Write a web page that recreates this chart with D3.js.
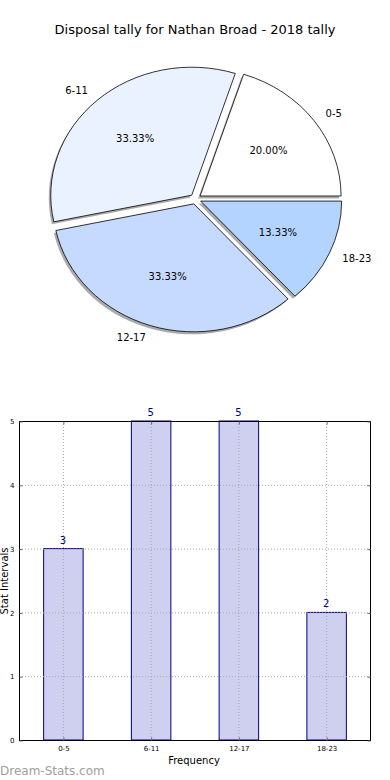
<!DOCTYPE html>
<html><head><meta charset="utf-8">
<script src="https://cdn.jsdelivr.net/npm/d3@7"></script>
<style>body{margin:0;background:#fff;} svg{display:block;font-family:"DejaVu Sans",sans-serif;}</style>
</head><body>
<script>
const title = "Disposal tally for Nathan Broad - 2018 tally";
const categories = ["0-5", "6-11", "12-17", "18-23"];
const values = [3, 5, 5, 2];
const pieColors = ["#ffffff", "#eaf1ff", "#c6d9ff", "#b3d4ff"];
const yTicks = [0, 1, 2, 3, 4, 5];
const xLabel = "Frequency";
const yLabel = "Stat Intervals";
const watermark = "Dream-Stats.com";

const W = 390, H = 780;
const svg = d3.select("body").append("svg").attr("width", W).attr("height", H);

svg.append("text").attr("x", 195).attr("y", 34).attr("text-anchor", "middle")
  .attr("font-size", 13).attr("fill", "#000").text(title);

// ---- Pie (elliptical, matplotlib style, counter-clockwise from east)
const cx = 195.5, cy = 199, rx = 141, ry = 128, explode = 0.04, shOff = [-2, 2.5];
const total = d3.sum(values);
const pie = d3.pie().sort(null).value(d => d)
  .startAngle(Math.PI / 2).endAngle(Math.PI / 2 - 2 * Math.PI);
const arcs = pie(values);
const arc = d3.arc().innerRadius(0).outerRadius(1);
const pieG = svg.append("g");
arcs.forEach((a, i) => {
  const mid = (a.startAngle + a.endAngle) / 2;
  const ux = Math.sin(mid), uy = -Math.cos(mid);
  const ox = cx + explode * rx * ux, oy = cy + explode * ry * uy;
  pieG.append("path").attr("d", arc(a))
    .attr("transform", `translate(${ox + shOff[0]},${oy + shOff[1]}) scale(${rx},${ry})`)
    .attr("fill", "#666").attr("fill-opacity", 0.55);
  a._o = [ox, oy, ux, uy];
});
arcs.forEach((a, i) => {
  const [ox, oy, ux, uy] = a._o;
  pieG.append("path").attr("d", arc(a))
    .attr("transform", `translate(${ox},${oy}) scale(${rx},${ry})`)
    .attr("fill", pieColors[i]).attr("stroke", "#000").attr("stroke-width", 0.8)
    .attr("vector-effect", "non-scaling-stroke");
  const lx = ox + 1.1 * rx * ux, ly = oy + 1.1 * ry * uy;
  pieG.append("text").attr("x", lx).attr("y", ly).attr("dy", "0.35em")
    .attr("text-anchor", ux > 0 ? "start" : "end").attr("font-size", 10)
    .text(categories[i]);
  const px = ox + 0.6 * rx * ux, py = oy + 0.6 * ry * uy;
  pieG.append("text").attr("x", px).attr("y", py).attr("dy", "0.35em")
    .attr("text-anchor", "middle").attr("font-size", 10)
    .text((values[i] / total * 100).toFixed(2) + "%");
});

// ---- Bar chart
const L = 19, R = 370, T = 421, B = 740;
const x = d3.scaleLinear().domain([-0.5, categories.length - 0.5]).range([L, R]);
const y = d3.scaleLinear().domain([0, 5]).range([B, T]);
const bw = 0.45;
const g = svg.append("g");

g.selectAll(".bar").data(values).join("rect")
  .attr("x", (d, i) => x(i - bw / 2) + 0.5).attr("width", x(bw) - x(0))
  .attr("y", d => y(d)).attr("height", d => y(0) - y(d))
  .attr("fill", "#ccccee").attr("fill-opacity", 0.95)
  .attr("stroke", "#000080").attr("stroke-width", 1);
g.selectAll(".gx2").data(categories).join("line")
  .attr("x1", (d, i) => x(i) + 0.5).attr("x2", (d, i) => x(i) + 0.5).attr("y1", T).attr("y2", B)
  .attr("stroke", "#a8a8a8").attr("stroke-width", 1).attr("stroke-dasharray", "1,2");
g.selectAll(".gy2").data(yTicks).join("line")
  .attr("x1", L).attr("x2", R).attr("y1", d => y(d) + 0.5).attr("y2", d => y(d) + 0.5)
  .attr("stroke", "#a8a8a8").attr("stroke-width", 1).attr("stroke-dasharray", "1,2");

g.selectAll(".vl").data(values).join("text")
  .attr("x", (d, i) => x(i)).attr("y", d => y(d) - 5)
  .attr("text-anchor", "middle").attr("font-size", 10).attr("fill", "#000080")
  .text(d => d);

g.append("rect").attr("x", L + 0.5).attr("y", T + 0.5).attr("width", R - L).attr("height", B - T)
  .attr("fill", "none").attr("stroke", "#000").attr("stroke-width", 1);

const ya = d3.axisLeft(y).tickValues(yTicks).tickSize(-3).tickPadding(5).tickFormat(d3.format("d"));
g.append("g").attr("transform", `translate(${L + 0.5},0.5)`).call(ya);
const ya2 = d3.axisRight(y).tickValues(yTicks).tickSize(-3).tickFormat("");
g.append("g").attr("transform", `translate(${R + 0.5},0.5)`).call(ya2);
const xa = d3.axisBottom(x).tickValues(d3.range(categories.length)).tickSize(-3).tickPadding(6)
  .tickFormat(i => categories[i]);
g.append("g").attr("transform", `translate(0.5,${B + 0.5})`).call(xa);
const xa2 = d3.axisTop(x).tickValues(d3.range(categories.length)).tickSize(-3).tickFormat("");
g.append("g").attr("transform", `translate(0.5,${T + 0.5})`).call(xa2);
g.selectAll(".domain").remove();
g.selectAll(".tick line").attr("stroke", "#666");
g.selectAll(".tick text").attr("font-size", 7).attr("font-family", "DejaVu Sans").attr("fill", "#000");

svg.append("text").attr("x", 194).attr("y", 764).attr("text-anchor", "middle")
  .attr("font-size", 10).text(xLabel);
svg.append("text").attr("transform", "translate(8,581) rotate(-90)").attr("text-anchor", "middle")
  .attr("font-size", 10).text(yLabel);
svg.append("text").attr("x", 0).attr("y", 775).attr("font-size", 12)
  .attr("fill", "#a0a0a0").text(watermark);
</script>
</body></html>
